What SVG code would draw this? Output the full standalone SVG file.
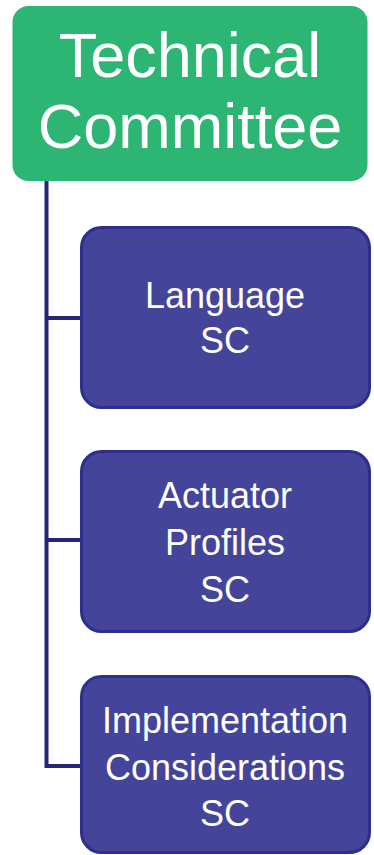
<svg xmlns="http://www.w3.org/2000/svg" width="374" height="855" viewBox="0 0 374 855">
  <style>
    .root { fill: #2db673; }
    .sub { fill: #43449a; stroke: #2e2f8c; stroke-width: 3; }
    .link { fill: none; stroke: #25257a; stroke-width: 4; }
    text { font-family: "Liberation Sans", Arial, sans-serif; fill: #ffffff; text-anchor: middle; }
    .big { font-size: 63px; }
    .small { font-size: 36px; }
  </style>
  <rect width="374" height="855" fill="#ffffff"/>

  <!-- connectors: trunk from the committee plus one branch per subcommittee -->
  <g id="connectors">
    <path class="link" d="M46.5 181 V766 H82"/>
    <path class="link" d="M46.5 318 H82"/>
    <path class="link" d="M46.5 540 H82"/>
  </g>

  <g id="technical-committee">
    <rect class="root" x="12.5" y="6" width="355" height="175" rx="16"/>
    <text class="big" x="190" y="77">Technical</text>
    <text class="big" x="190" y="148">Committee</text>
  </g>

  <g id="language-sc">
    <rect class="sub" x="81.5" y="227.5" width="288" height="180" rx="20"/>
    <text class="small" x="225" y="308">Language</text>
    <text class="small" x="225" y="353">SC</text>
  </g>

  <g id="actuator-profiles-sc">
    <rect class="sub" x="81.5" y="451.5" width="288" height="180" rx="20"/>
    <text class="small" x="225" y="508">Actuator</text>
    <text class="small" x="225" y="555">Profiles</text>
    <text class="small" x="225" y="602">SC</text>
  </g>

  <g id="implementation-considerations-sc">
    <rect class="sub" x="81.5" y="676.5" width="288" height="176" rx="20"/>
    <text class="small" x="225" y="733">Implementation</text>
    <text class="small" x="225" y="780">Considerations</text>
    <text class="small" x="225" y="826">SC</text>
  </g>
</svg>
